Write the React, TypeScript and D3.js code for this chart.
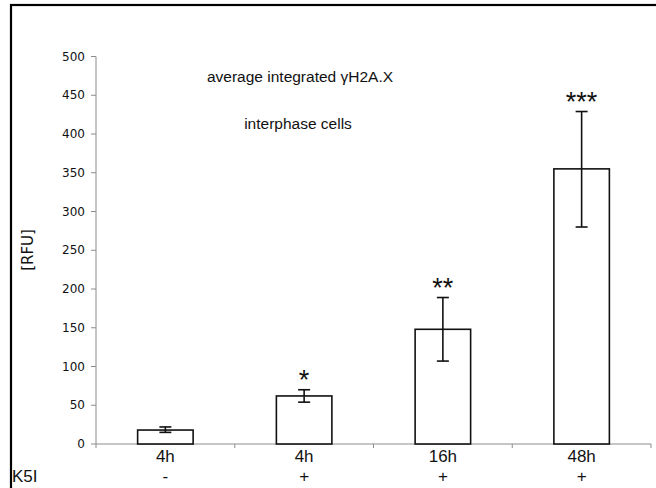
import React from 'react';
import * as d3 from 'd3';

// categories and values
const times = ['4h', '4h', '16h', '48h'];
const k5i = ['-', '+', '+', '+'];
const means = [18, 62, 148, 355];
const errLow = [15, 54, 107, 280];
const errHigh = [22, 70, 189, 429];
const stars = ['', '*', '**', '***'];
const yTicks = [0, 50, 100, 150, 200, 250, 300, 350, 400, 450, 500];

const W = 656;
const H = 488;

export default function App() {
  // plot area
  const left = 96, right = 651, top = 56.5, bottom = 444;

  const x = d3.scaleBand().domain(d3.range(times.length).map(String)).range([left, right]).paddingInner(0.6).paddingOuter(0.3);
  const band = d3.scaleBand().domain(d3.range(times.length).map(String)).range([left, right]);
  const y = d3.scaleLinear().domain([0, 500]).range([bottom, top]);

  const axisCol = '#8c8c8c';

  return (
    <svg width={W} height={H} style={{ position: 'absolute', left: 0, top: 0 }}>
      <rect x={0} y={0} width={W} height={H} fill="#fff" />
      {/* outer frame */}
      <rect x={11} y={5} width={W} height={H} fill="none" stroke="#000" strokeWidth={2.2} />

      {/* y axis */}
      <line x1={left} x2={left} y1={y(500)} y2={y(0)} stroke={axisCol} />
      {yTicks.map((t) => (
        <g key={t}>
          <line x1={left - 5} x2={left} y1={y(t)} y2={y(t)} stroke={axisCol} />
          <text x={left - 11} y={y(t)} dy="0.35em" textAnchor="end" fontFamily="DejaVu Sans" fontSize={12} fill="#111">
            {t}
          </text>
        </g>
      ))}

      {/* x axis */}
      <line x1={left} x2={right} y1={bottom} y2={bottom} stroke={axisCol} />
      {d3.range(times.length + 1).map((i) => {
        const xx = i < times.length ? band(String(i))! : right;
        return <line key={i} x1={xx} x2={xx} y1={bottom} y2={bottom + 4} stroke={axisCol} />;
      })}

      {/* bars */}
      {means.map((m, i) => {
        const bx = x(String(i))!;
        const cx = bx + x.bandwidth() / 2;
        return (
          <g key={i}>
            <rect x={bx} y={y(m)} width={x.bandwidth()} height={y(0) - y(m)} fill="#fff" stroke="#111" strokeWidth={1.6} />
            <line x1={cx} x2={cx} y1={y(errHigh[i])} y2={y(errLow[i])} stroke="#111" strokeWidth={1.6} />
            <line x1={cx - 6} x2={cx + 6} y1={y(errHigh[i])} y2={y(errHigh[i])} stroke="#111" strokeWidth={1.6} />
            <line x1={cx - 6} x2={cx + 6} y1={y(errLow[i])} y2={y(errLow[i])} stroke="#111" strokeWidth={1.6} />
            {stars[i] && (
              <text x={cx} y={y(errHigh[i]) - 1} textAnchor="middle" fontFamily="Liberation Sans" fontSize={27} fill="#111">
                {stars[i]}
              </text>
            )}
            <text x={cx} y={462} textAnchor="middle" fontFamily="Liberation Sans" fontSize={17} fill="#111">
              {times[i]}
            </text>
            <text x={cx} y={482} textAnchor="middle" fontFamily="Liberation Sans" fontSize={17} fill="#111">
              {k5i[i]}
            </text>
          </g>
        );
      })}

      <text x={12} y={482} fontFamily="Liberation Sans" fontSize={17} fill="#111">K5I</text>

      {/* titles */}
      <text x={300} y={82} textAnchor="middle" fontFamily="Liberation Sans" fontSize={15.5} fill="#111">
        average integrated γH2A.X
      </text>
      <text x={298} y={129} textAnchor="middle" fontFamily="Liberation Sans" fontSize={15.5} fill="#111">
        interphase cells
      </text>

      {/* y label */}
      <text transform={`translate(33,250) rotate(-90)`} textAnchor="middle" fontFamily="DejaVu Sans" fontSize={15} fill="#111">
        [RFU]
      </text>
    </svg>
  );
}
